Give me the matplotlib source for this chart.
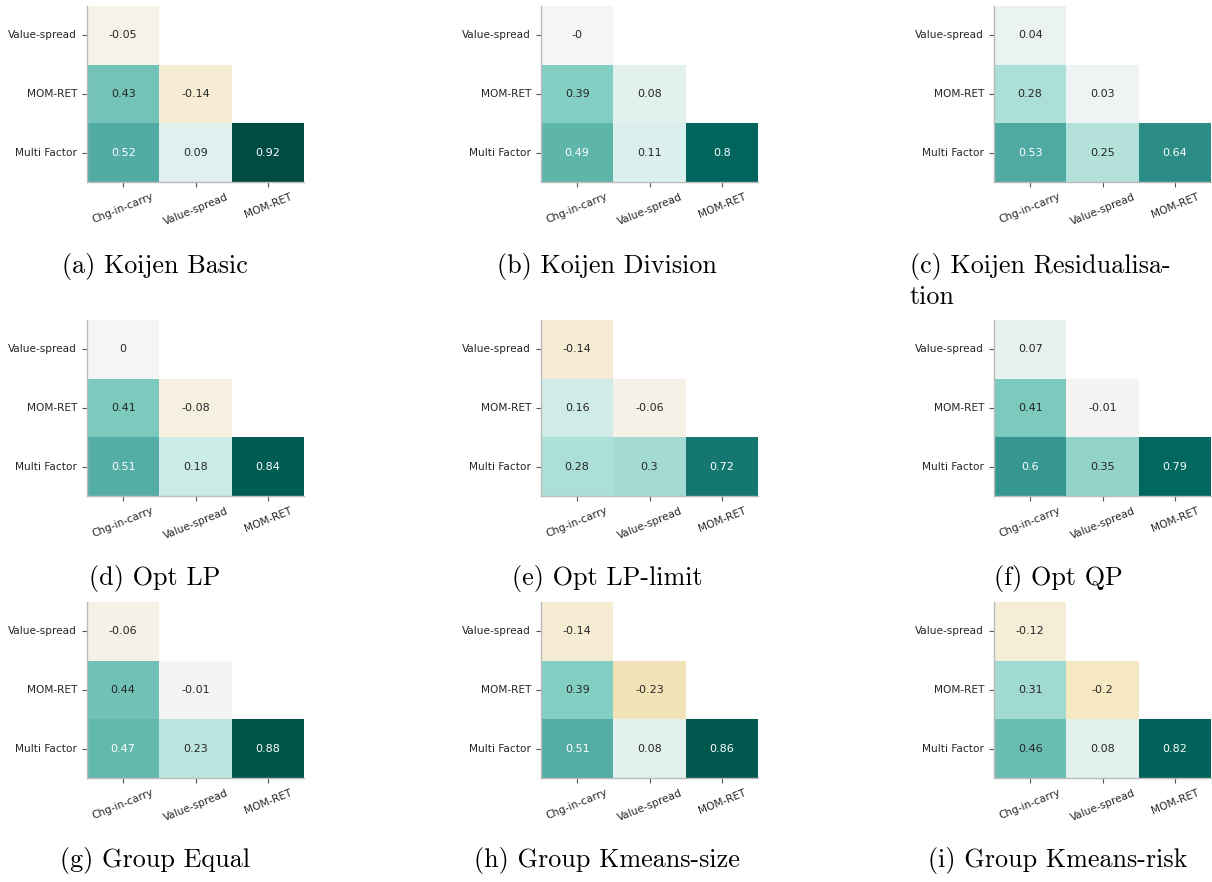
import numpy as np
import matplotlib
matplotlib.use("Agg")
import matplotlib.pyplot as plt
import seaborn as sns

row_labels = ["Value-spread", "MOM-RET", "Multi Factor"]
col_labels = ["Chg-in-carry", "Value-spread", "MOM-RET"]

# lower triangle of each correlation matrix, row by row
koijen_basic = [[-0.05], [0.43, -0.14], [0.52, 0.09, 0.92]]
koijen_division = [[-0.0], [0.39, 0.08], [0.49, 0.11, 0.8]]
koijen_resid = [[0.04], [0.28, 0.03], [0.53, 0.25, 0.64]]
opt_lp = [[0.0], [0.41, -0.08], [0.51, 0.18, 0.84]]
opt_lp_limit = [[-0.14], [0.16, -0.06], [0.28, 0.3, 0.72]]
opt_qp = [[0.07], [0.41, -0.01], [0.6, 0.35, 0.79]]
group_equal = [[-0.06], [0.44, -0.01], [0.47, 0.23, 0.88]]
group_kmeans_size = [[-0.14], [0.39, -0.23], [0.51, 0.08, 0.86]]
group_kmeans_risk = [[-0.12], [0.31, -0.2], [0.46, 0.08, 0.82]]

panels = [koijen_basic, koijen_division, koijen_resid,
          opt_lp, opt_lp_limit, opt_qp,
          group_equal, group_kmeans_size, group_kmeans_risk]
captions = ["(a) Koijen Basic", "(b) Koijen Division", "(c) Koijen Residualisa-\ntion",
            "(d) Opt LP", "(e) Opt LP-limit", "(f) Opt QP",
            "(g) Group Equal", "(h) Group Kmeans-size", "(i) Group Kmeans-risk"]


def to_matrix(tri):
    m = np.full((3, 3), np.nan)
    for i, row in enumerate(tri):
        m[i, :len(row)] = row
    return m


W, H = 1212, 882
fig = plt.figure(figsize=(W / 100, H / 100), dpi=100)

col_left = [87, 541, 994]
row_top = [6, 320, 602]
ax_w, ax_h = 217, 176
col_center = [155, 607, 1058]
cap_y = [267, 578, 860]
cap_font = dict(family=["cmr10", "DejaVu Serif"], fontsize=18.8)

for k, tri in enumerate(panels):
    r, c = divmod(k, 3)
    x0 = col_left[c] / W
    y0 = 1 - (row_top[r] + ax_h) / H
    ax = fig.add_axes([x0, y0, ax_w / W, ax_h / H])
    m = to_matrix(tri)
    sns.heatmap(m, ax=ax, mask=np.isnan(m), cmap="BrBG", vmin=-1, vmax=1,
                annot=True, fmt="g", cbar=False,
                annot_kws={"fontsize": 8},
                xticklabels=col_labels, yticklabels=row_labels)
    for side in ["left", "bottom"]:
        ax.spines[side].set_visible(True)
        ax.spines[side].set_color("#bbbbbb")
        ax.spines[side].set_linewidth(1.0)
    ax.tick_params(length=3.5, width=0.8, color="#555555", labelsize=7.6,
                   labelcolor="#262626")
    plt.setp(ax.get_yticklabels(), rotation=0)
    plt.setp(ax.get_xticklabels(), rotation=22, ha="center")

    # the long caption wraps onto a second, left-aligned line
    if "\n" in captions[k]:
        first, second = captions[k].split("\n")
        fig.text(910 / W, 1 - cap_y[r] / H, first, ha="left", va="center", **cap_font)
        fig.text(910 / W, 1 - (cap_y[r] + 30) / H, second, ha="left", va="center",
                 **cap_font)
    else:
        fig.text(col_center[c] / W, 1 - cap_y[r] / H, captions[k], ha="center",
                 va="center", **cap_font)

fig.savefig("out.png", dpi=100)
